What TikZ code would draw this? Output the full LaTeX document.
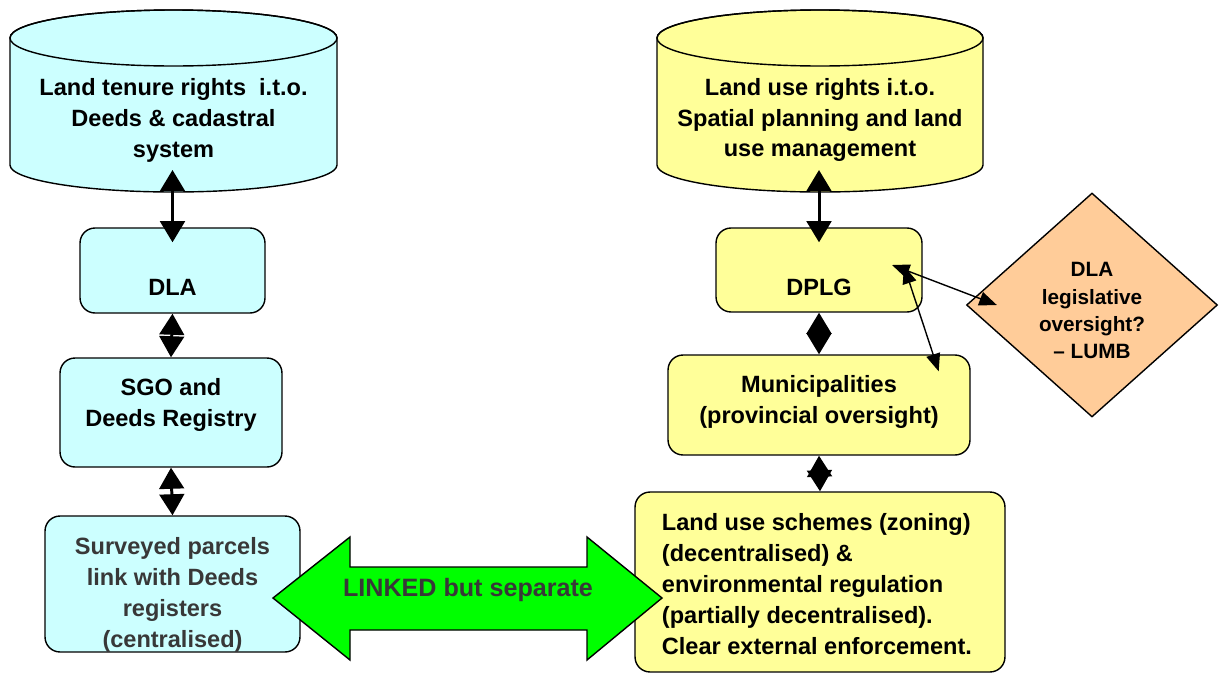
\documentclass[tikz,border=0pt]{standalone}
\usepackage{fontspec}
\setmainfont{Liberation Sans}
\usetikzlibrary{arrows.meta,shapes.geometric}
\definecolor{tenurecol}{HTML}{CCFFFF}
\definecolor{usecol}{HTML}{FFFF99}
\definecolor{legiscol}{HTML}{FFCC99}
\definecolor{linkgreen}{HTML}{00FF00}
\definecolor{darktext}{HTML}{383838}

\begin{document}
\begin{tikzpicture}[x=0.02cm,y=0.02cm,
    font=\bfseries\fontsize{13.4}{17.6}\selectfont,
    box/.style={draw,rounded corners=0.3cm,line width=0.8pt,inner sep=0pt},
    bigarr/.style={{Triangle[length=12pt,width=14pt]}-{Triangle[length=12pt,width=14pt]},line width=1.7pt},
    thinarr/.style={{Triangle[length=10pt,width=8pt]}-{Triangle[length=10pt,width=8pt]},line width=0.8pt}]
    \useasboundingbox (0,0) rectangle (1220,-673);
    \filldraw[fill=tenurecol,line width=0.8pt] (10,-38) -- (10,-165) arc[start angle=180,end angle=360,x radius=163.5,y radius=27] -- (337,-38) arc[start angle=0,end angle=180,x radius=163.5,y radius=28] -- cycle;
    \draw[line width=0.8pt] (173.5,-38) ellipse[x radius=163.5,y radius=28];
    \filldraw[fill=usecol,line width=0.8pt] (657,-38) -- (657,-165) arc[start angle=180,end angle=360,x radius=163,y radius=27] -- (983,-38) arc[start angle=0,end angle=180,x radius=163,y radius=28] -- cycle;
    \draw[line width=0.8pt] (820,-38) ellipse[x radius=163,y radius=28];
    \node[align=center] (tenure) at (173.5,-120) {Land tenure rights \ i.t.o.\\Deeds \& cadastral\\system};
    \node[align=center] (userights) at (820,-120) {Land use rights i.t.o.\\Spatial planning and land\\use management};
    \coordinate (tenbot) at (172.5,-170);
    \coordinate (usebot) at (819,-170);
    \node[box,fill=tenurecol,minimum width=3.7cm,minimum height=1.7cm,label={[yshift=-0.33cm]center:DLA}] (dla) at (172.5,-270.5) {};
    \node[box,fill=tenurecol,minimum width=4.44cm,minimum height=2.18cm,label={[align=center,yshift=0.16cm]center:{SGO and\\Deeds Registry}}] (sgo) at (171,-412.5) {};
    \node[box,fill=tenurecol,minimum width=5.1cm,minimum height=2.72cm,label={[align=center,text=darktext,yshift=-0.22cm]center:{Surveyed parcels\\link with Deeds\\registers\\(centralised)}}] (surv) at (172.5,-584) {};
    \node[box,fill=usecol,minimum width=4.12cm,minimum height=1.68cm,label={[yshift=-0.34cm]center:DPLG}] (dplg) at (819,-270) {};
    \node[box,fill=usecol,minimum width=6.04cm,minimum height=2cm,label={[align=center,yshift=0.07cm]center:{Municipalities\\(provincial oversight)}}] (munic) at (819,-405) {};
    \node[box,fill=usecol,minimum width=7.4cm,minimum height=3.6cm,label={[align=left,xshift=-0.06cm,yshift=-0.04cm]center:{Land use schemes (zoning)\\(decentralised) \&\\environmental regulation\\(partially decentralised).\\Clear external enforcement.}}] (landuse) at (820,-582) {};
    \node[draw,diamond,fill=legiscol,minimum width=5.02cm,minimum height=4.48cm,inner sep=0pt,line width=0.8pt,label={[align=center,font=\bfseries\fontsize{11.8}{15.4}\selectfont,yshift=-0.11cm]center:{DLA\\legislative\\oversight?\\-- LUMB}}] (legis) at (1092,-305) {};
    \coordinate (dpa) at (892,-265);
    \coordinate (dpb) at (904,-266);
    \draw[bigarr] (tenbot) -- ([yshift=-0.3cm]dla.north);
    \draw[bigarr] (dla.south) -- (sgo.north);
    \draw[bigarr] (sgo.south) -- (surv.north);
    \draw[bigarr] (usebot) -- ([yshift=-0.3cm]dplg.north);
    \draw[bigarr] (dplg.south) -- (munic.north);
    \draw[bigarr] (munic.south) -- (landuse.north);
    \draw[thinarr] (dpa) -- ([xshift=0.62cm]legis.west);
    \draw[thinarr] (dpb) -- ([xshift=-0.64cm,yshift=-0.34cm]munic.north east);
    \filldraw[fill=linkgreen,line width=0.8pt] (273,-598) -- (350,-537) -- (350,-567) -- (587,-567) -- (587,-537) -- (662,-598) -- (587,-660) -- (587,-630) -- (350,-630) -- (350,-660) -- cycle;
    \node[text=darktext,font=\bfseries\fontsize{14.3}{17.6}\selectfont] (linked) at (468,-590) {LINKED but separate};
\end{tikzpicture}
\end{document}
